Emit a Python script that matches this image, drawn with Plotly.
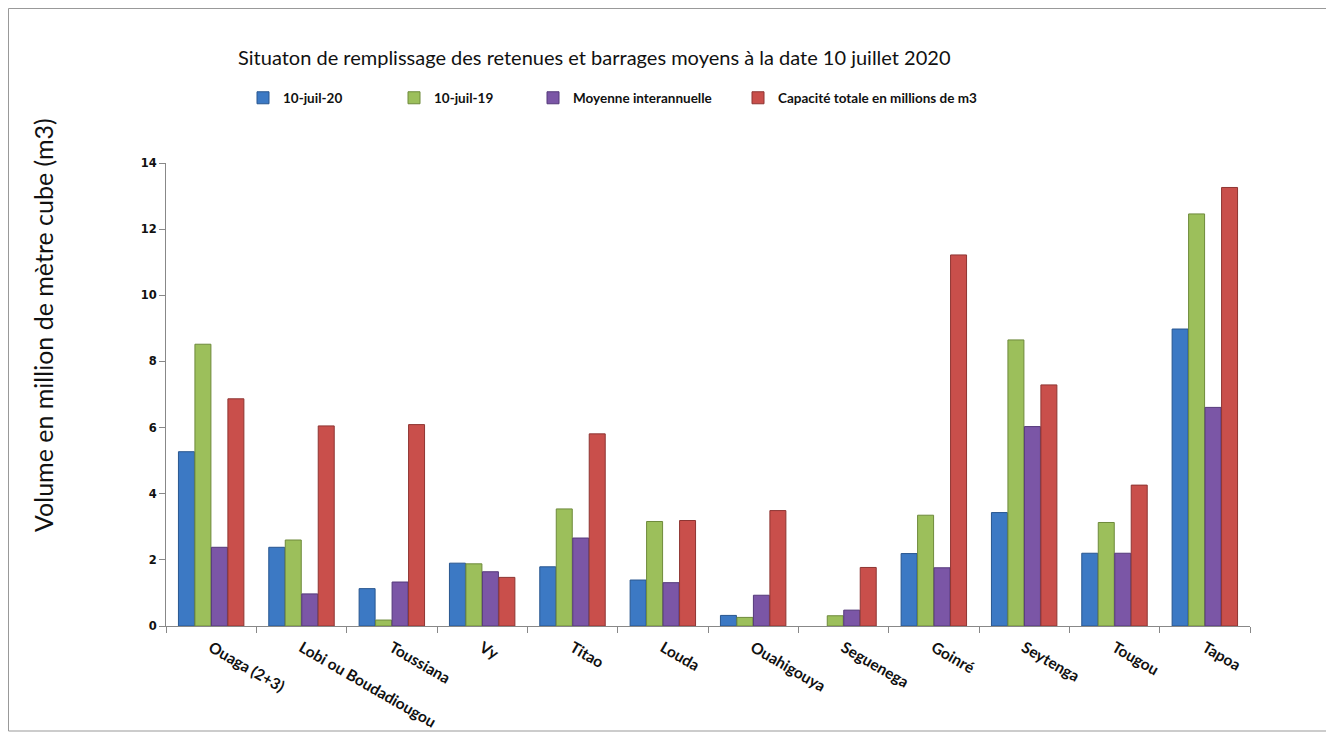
import plotly.graph_objects as go

categories = ["Ouaga (2+3)", "Lobi ou Boudadiougou", "Toussiana", "Vy", "Titao", "Louda",
              "Ouahigouya", "Seguenega", "Goinré", "Seytenga", "Tougou", "Tapoa"]
s_2020 = [5.27, 2.38, 1.13, 1.90, 1.79, 1.39, 0.32, 0.0, 2.19, 3.43, 2.20, 8.98]
s_2019 = [8.52, 2.60, 0.18, 1.88, 3.54, 3.16, 0.26, 0.31, 3.35, 8.65, 3.13, 12.46]
s_moy = [2.38, 0.97, 1.33, 1.64, 2.66, 1.31, 0.93, 0.48, 1.76, 6.03, 2.20, 6.61]
s_cap = [6.87, 6.05, 6.09, 1.47, 5.81, 3.19, 3.49, 1.77, 11.22, 7.29, 4.26, 13.26]
names = ["10-juil-20", "10-juil-19", "Moyenne interannuelle", "Capacité totale en millions de m3"]
y_ticks = [0, 2, 4, 6, 8, 10, 12, 14]

OFF = 8  # page body margin
W, H = 1334 - OFF, 736 - OFF
L, T = 166 - OFF, 163 - OFF
R = W - (1250 - OFF)
B = H - (626 - OFF)
pw, ph = W - L - R, H - T - B

def px_x(x):
    return (x - OFF - L) / pw

def px_y(y):
    return (H - B - (y - OFF)) / ph

colors = ["#3C79C4", "#9CBF5B", "#7B56A6", "#C94F4B"]
lines = ["#28568F", "#6E8A3B", "#54397A", "#8E3532"]
series = [s_2020, s_2019, s_moy, s_cap]
legend_x = [243, 394, 533, 738]

fig = go.Figure()
for i, (nm, vals) in enumerate(zip(names, series)):
    lg = "legend" if i == 0 else f"legend{i+1}"
    fig.add_trace(go.Bar(
        x=categories, y=vals, name=nm,
        marker=dict(color=colors[i],
                    line=dict(color=lines[i], width=[0 if v == 0 else 1 for v in vals])),
        legend=lg,
    ))

legend_common = dict(orientation="h", xanchor="left", yanchor="middle",
                     font=dict(family="Lato", size=13.5, color="#111111", weight="bold"),
                     bgcolor="rgba(0,0,0,0)", itemwidth=30)
layout_legends = {}
for i in range(4):
    key = "legend" if i == 0 else f"legend{i+1}"
    layout_legends[key] = dict(legend_common, x=px_x(legend_x[i]), y=px_y(98))

fig.update_layout(
    width=W, height=H,
    margin=dict(l=L, r=R, t=T, b=B, autoexpand=False),
    paper_bgcolor="white", plot_bgcolor="white",
    barmode="group", bargap=0.27, bargroupgap=0.03,
    showlegend=True,
    font=dict(family="Lato", color="#111111"),
    xaxis=dict(
        type="category", tickangle=30, showgrid=False, automargin=False,
        showline=True, linecolor="#888888", linewidth=1,
        ticks="outside", tickson="boundaries", ticklen=6, tickcolor="#888888",
        tickfont=dict(family="Lato", size=15.5, color="#111111", weight="bold"),
        ticklabelstandoff=6,
    ),
    yaxis=dict(
        range=[0, 14], tickvals=y_ticks, showgrid=False, zeroline=False, automargin=False,
        showline=True, linecolor="#888888", linewidth=1,
        ticks="outside", ticklen=6, tickcolor="#888888",
        tickfont=dict(family="DejaVu Sans", size=11.5, color="#111111", weight="bold"),
    ),
    **layout_legends,
)

fig.add_annotation(
    text="Situaton de remplissage des retenues et barrages moyens à la date 10 juillet 2020",
    xref="paper", yref="paper", x=px_x(594), y=px_y(57), xanchor="center", yanchor="middle",
    showarrow=False, font=dict(family="Lato", size=20, color="#111111"),
)
fig.add_annotation(
    text="Volume en million de mètre cube (m3)",
    xref="paper", yref="paper", x=px_x(43), y=px_y(325), xanchor="center", yanchor="middle",
    textangle=-90, showarrow=False, font=dict(family="Lato", size=25, color="#111111"),
)
fig.add_shape(type="rect", xref="paper", yref="paper",
              x0=px_x(8.5), x1=px_x(1328), y0=px_y(731), y1=px_y(8.5),
              line=dict(color="#999999", width=1), fillcolor="rgba(0,0,0,0)", layer="below")

fig.write_html("out.html")
